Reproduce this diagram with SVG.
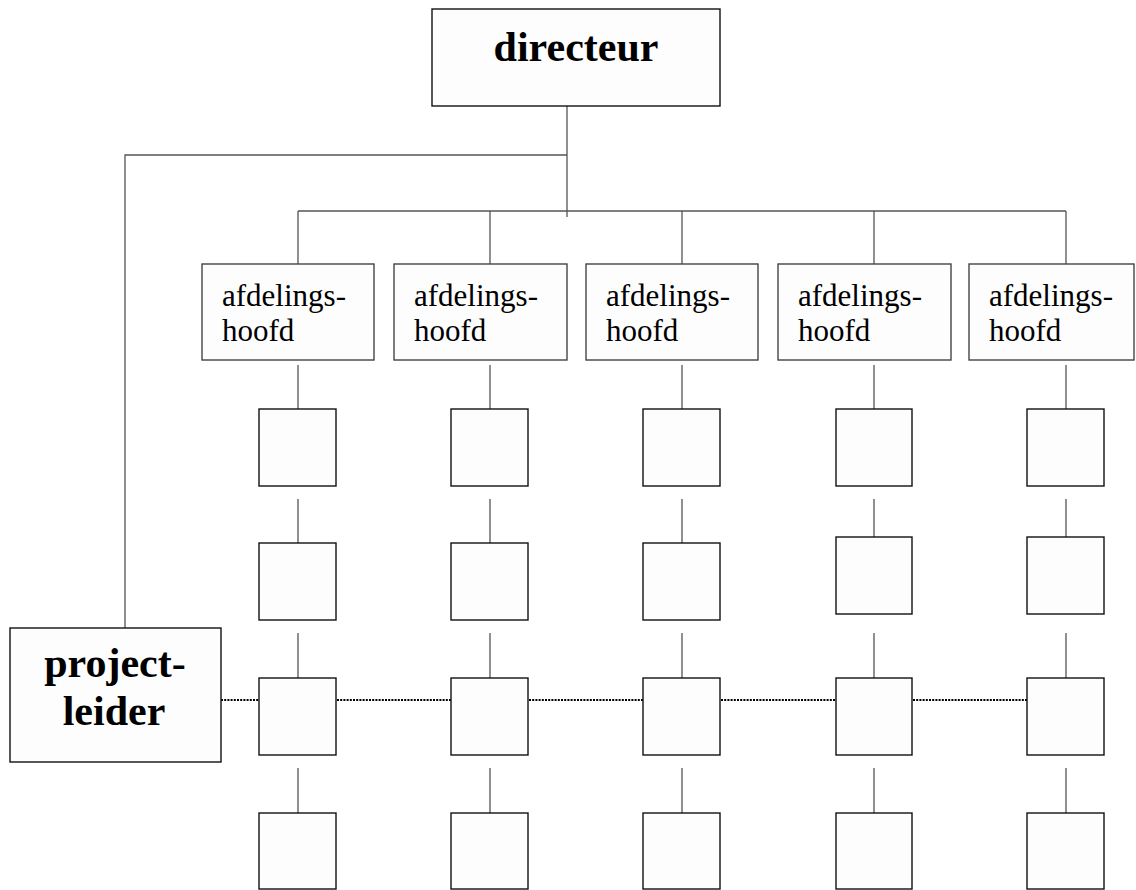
<svg xmlns="http://www.w3.org/2000/svg" width="1136" height="890" viewBox="0 0 1136 890">
<style>
.box{fill:#fdfdfd;stroke:#111;stroke-width:1.4}
.hb{fill:#fdfdfd;stroke:#444;stroke-width:1.4}
.ln{fill:none;stroke:#555;stroke-width:1.3}
.dot{fill:none;stroke:#000;stroke-width:2;stroke-dasharray:2 1.2}
.big{font-family:"Liberation Serif",serif;font-weight:bold;font-size:42px;fill:#000;text-anchor:middle}
.reg{font-family:"Liberation Serif",serif;font-size:31px;fill:#000}
</style>
<rect width="1136" height="890" fill="#fff"/>
<g id="connectors">
<path class="ln" d="M567 106V217M567 155H125V628M298 211H1066M298 211V264M490 211V264M682 211V264M874 211V264M1066 211V264"/>
<path class="ln" d="M298 365V409M490 365V409M682 365V409M874 365V409M1066 365V409"/>
<path class="ln" d="M298 499V543M490 499V543M682 499V543M874 499V537M1066 499V537"/>
<path class="ln" d="M298 633V678M490 633V678M682 633V678M874 633V678M1066 633V678"/>
<path class="ln" d="M298 768V813M490 768V813M682 768V813M874 768V813M1066 768V813"/>
<path class="dot" d="M221 700H259M337 700H451M529 700H643M721 700H836M913 700H1027"/>
</g>
<g id="directeur"><rect class="box" x="432" y="9" width="288" height="97"/><text class="big" x="576" y="61">directeur</text></g>
<g id="projectleider"><rect class="box" x="10" y="628" width="211" height="134"/><text class="big" x="115" y="677">project-</text><text class="big" x="114" y="725">leider</text></g>
<g id="hoofd1"><rect class="hb" x="202" y="264" width="172" height="96"/><text class="reg" x="222" y="306">afdelings-</text><text class="reg" x="222" y="341">hoofd</text></g>
<g id="hoofd2"><rect class="hb" x="394" y="264" width="173" height="96"/><text class="reg" x="414" y="306">afdelings-</text><text class="reg" x="414" y="341">hoofd</text></g>
<g id="hoofd3"><rect class="hb" x="586" y="264" width="172" height="96"/><text class="reg" x="606" y="306">afdelings-</text><text class="reg" x="606" y="341">hoofd</text></g>
<g id="hoofd4"><rect class="hb" x="778" y="264" width="173" height="96"/><text class="reg" x="798" y="306">afdelings-</text><text class="reg" x="798" y="341">hoofd</text></g>
<g id="hoofd5"><rect class="hb" x="969" y="264" width="165" height="96"/><text class="reg" x="989" y="306">afdelings-</text><text class="reg" x="989" y="341">hoofd</text></g>
<g id="col1"><rect class="box" x="259" y="409" width="77" height="77"/><rect class="box" x="259" y="543" width="77" height="77"/><rect class="box" x="259" y="678" width="77" height="77"/><rect class="box" x="259" y="813" width="77" height="76"/></g>
<g id="col2"><rect class="box" x="451" y="409" width="77" height="77"/><rect class="box" x="451" y="543" width="77" height="77"/><rect class="box" x="451" y="678" width="77" height="77"/><rect class="box" x="451" y="813" width="77" height="76"/></g>
<g id="col3"><rect class="box" x="643" y="409" width="77" height="77"/><rect class="box" x="643" y="543" width="77" height="77"/><rect class="box" x="643" y="678" width="77" height="77"/><rect class="box" x="643" y="813" width="77" height="76"/></g>
<g id="col4"><rect class="box" x="836" y="409" width="76" height="77"/><rect class="box" x="836" y="537" width="76" height="77"/><rect class="box" x="836" y="678" width="76" height="77"/><rect class="box" x="836" y="813" width="76" height="76"/></g>
<g id="col5"><rect class="box" x="1027" y="409" width="77" height="77"/><rect class="box" x="1027" y="537" width="77" height="77"/><rect class="box" x="1027" y="678" width="77" height="77"/><rect class="box" x="1027" y="813" width="77" height="76"/></g>
</svg>
